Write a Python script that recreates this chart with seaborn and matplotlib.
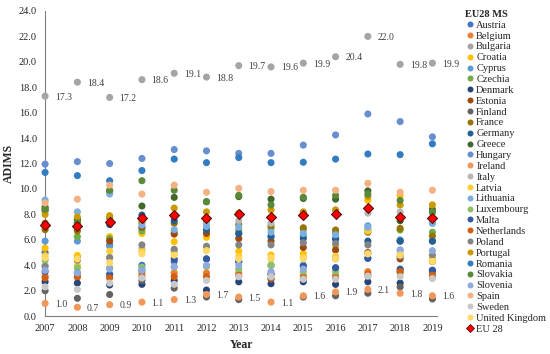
import matplotlib
matplotlib.use("Agg")
import matplotlib.pyplot as plt
import seaborn as sns
import pandas as pd
from matplotlib.lines import Line2D

years = list(range(2007, 2020))

countries = ["Austria", "Belgium", "Bulgaria", "Croatia", "Cyprus", "Czechia", "Denmark",
             "Estonia", "Finland", "France", "Germany", "Greece", "Hungary", "Ireland",
             "Italy", "Latvia", "Lithuania", "Luxembourg", "Malta", "Netherlands", "Poland",
             "Portugal", "Romania", "Slovakia", "Slovenia", "Spain", "Sweden", "United Kingdom"]

colors = ["#4472C4", "#ED7D31", "#A5A5A5", "#FFC000", "#5B9BD5", "#70AD47", "#264478",
          "#9E480E", "#636363", "#997300", "#255E91", "#43682B", "#698ED0", "#F1975A",
          "#B7B7B7", "#FFCD33", "#7CAFDD", "#8CC168", "#335AA1", "#D26012", "#848484",
          "#CC9A00", "#327DC2", "#5A8A39", "#8FAADC", "#F4B183", "#C9C9C9", "#FFD966"]

austria = [5.0, 4.6, 5.6, 4.0, 4.3, 4.5, 4.3, 4.0, 4.0, 3.8, 4.55, 5.9, 5.9]
belgium = [3.15, 3.05, 3.15, 3.4, 3.4, 3.4, 3.4, 3.3, 3.2, 3.2, 3.5, 3.6, 3.4]
bulgaria = [17.3, 18.4, 17.2, 18.6, 19.1, 18.8, 19.7, 19.6, 19.9, 20.4, 22.0, 19.8, 19.9]
croatia = [5.35, 4.77, 6.25, 6.5, 5.85, 6.2, 5.1, 4.8, 4.9, 5.5, 9.1, 9.5, 4.55]
cyprus = [5.9, 5.9, 5.5, 6.9, 7.8, 7.3, 6.5, 6.2, 6.3, 6.0, 7.1, 6.0, 7.3]
czechia = [8.6, 6.25, 6.1, 6.7, 6.6, 6.6, 6.77, 6.9, 6.8, 6.55, 6.8, 6.77, 6.6]
denmark = [2.7, 2.6, 2.45, 2.5, 2.8, 2.05, 2.7, 2.55, 2.7, 2.5, 2.7, 2.6, 3.6]
estonia = [7.3, 7.35, 5.9, 7.0, 6.45, 6.5, 6.1, 5.9, 5.4, 5.2, 5.0, 4.5, 4.3]
finland = [2.0, 1.4, 1.7, 2.8, 2.2, 1.5, 1.3, 2.9, 1.5, 1.6, 1.8, 2.3, 1.35]
france = [6.8, 6.7, 7.7, 7.35, 7.3, 7.4, 7.2, 7.1, 6.95, 6.77, 6.6, 6.9, 6.3]
germany = [8.3, 7.6, 7.2, 7.95, 7.5, 6.8, 6.5, 6.3, 6.1, 6.1, 5.9, 5.9, 5.9]
greece = [8.5, 7.6, 9.8, 8.66, 9.34, 9.0, 9.4, 9.2, 9.25, 9.2, 9.85, 7.5, 8.4]
hungary = [11.95, 12.15, 12.0, 12.4, 13.1, 13.0, 12.8, 12.8, 13.45, 14.25, 15.9, 15.3, 14.1]
ireland = [1.0, 0.7, 0.9, 1.1, 1.3, 1.7, 1.5, 1.1, 1.6, 1.9, 2.1, 1.8, 1.6]
italy = [4.0, 4.4, 4.6, 5.3, 5.25, 7.3, 7.5, 7.3, 8.0, 8.35, 8.1, 8.2, 8.1]
latvia = [4.75, 4.0, 5.1, 5.1, 5.0, 5.4, 4.7, 4.5, 4.65, 4.7, 6.7, 4.9, 4.5]
lithuania = [9.13, 8.2, 9.6, 7.15, 6.8, 7.05, 7.0, 6.6, 6.5, 6.4, 6.99, 5.2, 7.35]
luxembourg = [4.4, 3.8, 3.8, 3.85, 3.85, 3.9, 3.7, 4.0, 3.5, 3.5, 3.15, 3.4, 3.0]
malta = [3.5, 3.4, 3.3, 3.6, 4.5, 4.5, 4.3, 3.3, 3.9, 3.8, 4.55, 3.7, 3.6]
netherlands = [3.0, 3.1, 3.0, 3.15, 3.1, 3.1, 3.2, 3.0, 3.0, 3.0, 3.3, 3.5, 3.2]
poland = [3.9, 4.4, 4.6, 5.6, 5.25, 5.5, 5.6, 5.6, 5.77, 5.7, 5.6, 4.7, 4.8]
portugal = [8.0, 7.8, 7.9, 7.55, 8.5, 8.2, 8.1, 8.35, 8.2, 8.35, 9.4, 8.75, 8.75]
romania = [11.3, 11.05, 10.65, 11.45, 12.35, 12.07, 12.47, 12.07, 12.1, 12.35, 12.75, 12.7, 13.55]
slovakia = [8.4, 7.35, 9.9, 10.65, 9.9, 9.0, 9.5, 8.75, 9.35, 9.5, 9.6, 9.1, 8.2]
slovenia = [3.6, 3.4, 3.7, 3.6, 3.9, 4.0, 4.0, 3.5, 3.7, 4.5, 4.9, 5.2, 5.15]
spain = [8.9, 9.2, 10.3, 9.6, 10.3, 9.74, 10.05, 9.8, 9.9, 9.9, 10.45, 9.74, 9.9]
sweden = [2.3, 2.1, 2.6, 3.0, 2.5, 2.8, 3.1, 3.1, 2.9, 2.9, 3.15, 3.1, 2.95]
uk = [4.6, 4.5, 4.2, 4.9, 4.8, 5.15, 4.5, 4.6, 4.5, 4.5, 4.9, 4.8, 4.3]
eu28 = [7.17, 7.1, 7.4, 7.74, 7.95, 7.7, 8.0, 7.8, 7.95, 8.0, 8.5, 7.8, 7.7]

series = [austria, belgium, bulgaria, croatia, cyprus, czechia, denmark, estonia, finland,
          france, germany, greece, hungary, ireland, italy, latvia, lithuania, luxembourg,
          malta, netherlands, poland, portugal, romania, slovakia, slovenia, spain, sweden, uk]

rows = []
for name, vals in zip(countries, series):
    for y, v in zip(years, vals):
        rows.append({"Year": y, "ADIMS": v, "Country": name})
df = pd.DataFrame(rows)
df_eu = pd.DataFrame({"Year": years, "ADIMS": eu28})

sns.set_style("white")
plt.rcParams["font.family"] = ["Liberation Serif", "DejaVu Serif"]

fig = plt.figure(figsize=(5.5, 3.54), dpi=100)
ax = fig.add_axes([0.082, 0.107, 0.713, 0.862])

palette = dict(zip(countries, colors))
sns.scatterplot(data=df, x="Year", y="ADIMS", hue="Country", hue_order=countries,
                palette=palette, s=26, linewidth=0, ax=ax, legend=False, zorder=3,
                clip_on=False)
sns.scatterplot(data=df_eu, x="Year", y="ADIMS", color="#FF0000", marker="D", s=26,
                edgecolor="#5a1010", linewidth=0.8, ax=ax, legend=False, zorder=4,
                clip_on=False)

# value labels for max (Bulgaria) and min (Ireland)
for y, v in zip(years, bulgaria):
    ax.annotate(f"{v:.1f}", (y, v), xytext=(7, -2.5), textcoords="offset points",
                fontsize=7, color="#404040")
for y, v in zip(years, ireland):
    ax.annotate(f"{v:.1f}", (y, v), xytext=(7, -2.5), textcoords="offset points",
                fontsize=7, color="#404040")

ax.set_xlim(2007, 2019.15)
ax.set_ylim(0, 24)
ax.set_xticks(years)
ax.set_yticks([i * 2 for i in range(13)])
ax.set_yticklabels([f"{i * 2:.1f}" for i in range(13)])
ax.tick_params(axis="both", direction="inout", length=6, width=0.8, color="#7f7f7f",
               labelsize=7.5, labelcolor="#262626", pad=3)
ax.set_xlabel("Year", fontsize=8.5, fontweight="bold", labelpad=4)
ax.set_ylabel("ADIMS", fontsize=8.5, fontweight="bold", labelpad=3)

for side in ["top", "right"]:
    ax.spines[side].set_visible(False)
for side in ["left", "bottom"]:
    ax.spines[side].set_color("#7f7f7f")
    ax.spines[side].set_linewidth(0.8)

handles = [Line2D([], [], marker="o", linestyle="", markersize=4.3, markerfacecolor=c,
                  markeredgewidth=0) for c in colors]
handles.append(Line2D([], [], marker="D", linestyle="", markersize=3.6, markerfacecolor="#FF0000",
                      markeredgecolor="#5a1010", markeredgewidth=0.6))
labels = countries + ["EU 28"]
leg = fig.legend(handles, labels, loc="upper left", bbox_to_anchor=(0.845, 0.972),
                 frameon=False, fontsize=7.5, labelspacing=0.15, handletextpad=0.1,
                 handlelength=1.0, borderaxespad=0, borderpad=0,
                 title="EU28 MS", title_fontproperties={"weight": "bold", "size": 7.5})
leg._legend_box.align = "left"

fig.savefig("out.png", dpi=100)
